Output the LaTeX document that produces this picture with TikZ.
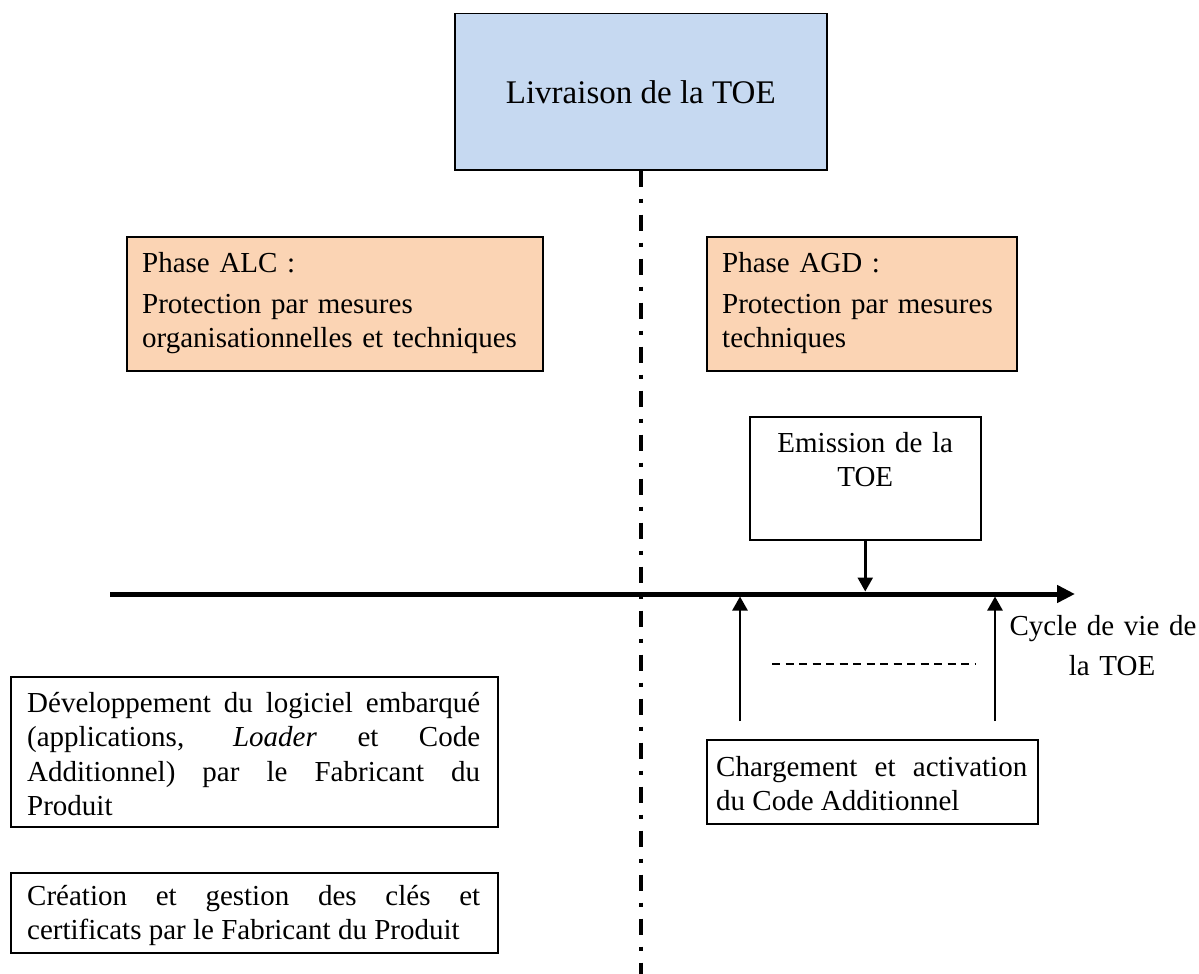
\documentclass[tikz,border=0pt]{standalone}
\usepackage{fontspec}
\setmainfont{Liberation Serif}
\usetikzlibrary{arrows.meta}

\definecolor{bleuclair}{HTML}{C6D9F1}
\definecolor{peche}{HTML}{FBD4B4}

\tikzset{
  cadre/.style={draw, line width=1.5pt, anchor=north west, inner sep=0pt},
  texte/.style={anchor=base west, inner sep=0pt, font=\fontsize{29}{34.5}\selectfont},
  fleche/.style={-{Triangle[length=14pt,width=15pt]}, line width=2.5pt}
}

\begin{document}
\begin{tikzpicture}[x=1pt, y=-1pt]
    \useasboundingbox (0,0) rectangle (1199,974);

    % Livraison de la TOE
    \node[cadre, fill=bleuclair, minimum width=372, minimum height=156,
          font=\fontsize{33}{38}\selectfont] (livr) at (454,13) {Livraison de la TOE};
    \coordinate (bas) at (640,974);
    \draw[line width=4pt, dash pattern=on 16pt off 12pt on 4pt off 12pt]
        (livr.south) -- (livr.south |- bas);

    % Phases
    \node[cadre, fill=peche, minimum width=416, minimum height=134] (alc) at (126,236) {};
    \node[texte, text width=384, align=left] (alctxt) at ([shift={(16,36)}]alc.north west)
        {Phase ALC :\par\vspace{6.5pt}Protection par mesures\\organisationnelles et techniques};

    \node[cadre, fill=peche, minimum width=310, minimum height=134] (agd) at (706,236) {};
    \node[texte, text width=276, align=left] (agdtxt) at ([shift={(16,36)}]agd.north west)
        {Phase AGD :\par\vspace{6.5pt}Protection par mesures\\techniques};

    % Emission
    \node[cadre, minimum width=231, minimum height=123] (emis) at (749,416) {};
    \node[texte, anchor=base, text width=200, align=center] (emistxt) at ([shift={(0,36)}]emis.north)
        {Emission de la\\TOE};

    % Cycle de vie
    \coordinate (tl0) at (110,594);
    \coordinate (tl1) at (1075,594);
    \draw[line width=5pt, -{Triangle[length=18pt,width=17pt]}] (tl0) -- (tl1);
    \draw[fleche] (emis.south) -- ([shift={(0,-2.5)}]emis.south |- tl0);
    \node[texte, anchor=base, text width=190, align=center, font=\fontsize{29}{40}\selectfont] (cycle)
        at (1103,635) {Cycle de vie de\\\hspace*{18pt}la TOE};

    % Chargement
    \node[cadre, minimum width=331, minimum height=84] (charg) at (706,739) {};
    \node[texte, text width=311, align=justify] (chargtxt) at ([shift={(10,37)}]charg.north west)
        {Chargement et activation\linebreak du Code Additionnel};
    \coordinate (up1) at (740,721);
    \coordinate (up2) at (995,721);
    \draw[fleche] (up1) -- ([shift={(0,2.5)}]up1 |- tl0);
    \draw[fleche] (up2) -- ([shift={(0,2.5)}]up2 |- tl0);
    \draw[line width=1.5pt, dash pattern=on 8pt off 5.5pt] (772,664) -- (975,664);

    % Fabricant du Produit
    \node[cadre, minimum width=487, minimum height=150] (dev) at (10,676) {};
    \node[texte, text width=453, align=justify] (devtxt) at ([shift={(17,36)}]dev.north west)
        {D\'eveloppement du logiciel embarqu\'e\linebreak (applications, \textit{Loader} et Code\linebreak Additionnel) par le Fabricant du\linebreak Produit};

    \node[cadre, minimum width=487, minimum height=80] (crea) at (10,872) {};
    \node[texte, text width=453, align=justify] (creatxt) at ([shift={(17,33)}]crea.north west)
        {Cr\'eation et gestion des cl\'es et\linebreak certificats par le Fabricant du Produit};
\end{tikzpicture}
\end{document}
